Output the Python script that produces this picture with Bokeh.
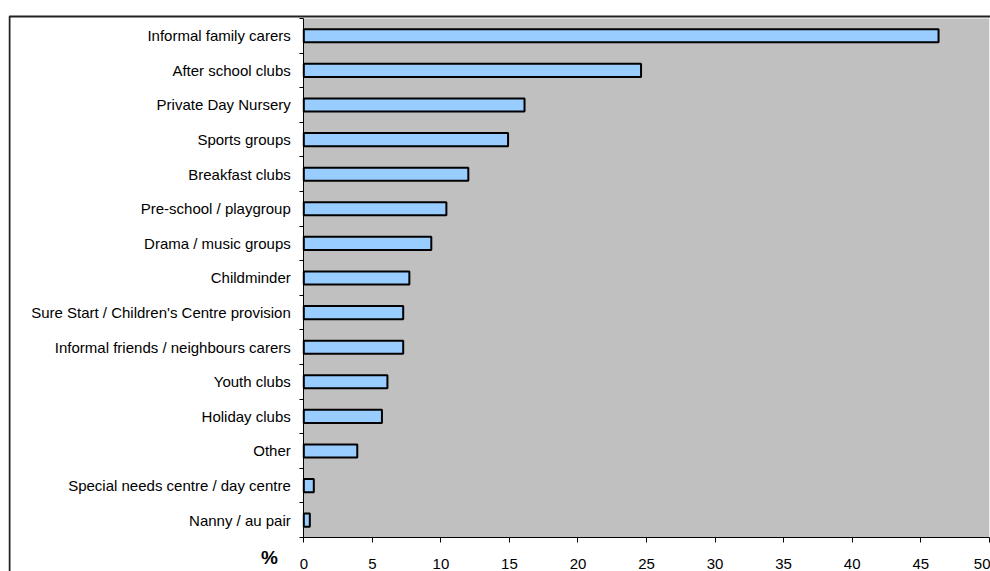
from bokeh.plotting import figure
from bokeh.models import Range1d, FixedTicker, BoxAnnotation, Label, ColumnDataSource
from bokeh.embed import file_html
from bokeh.resources import INLINE

categories = [
    "Informal family carers",
    "After school clubs",
    "Private Day Nursery",
    "Sports groups",
    "Breakfast clubs",
    "Pre-school / playgroup",
    "Drama / music groups",
    "Childminder",
    "Sure Start / Children's Centre provision",
    "Informal friends / neighbours carers",
    "Youth clubs",
    "Holiday clubs",
    "Other",
    "Special needs centre / day centre",
    "Nanny / au pair",
]
values = [46.3, 24.6, 16.1, 14.9, 12.0, 10.4, 9.3, 7.7, 7.25, 7.25, 6.1, 5.7, 3.9, 0.73, 0.44]
x_ticks = [0, 5, 10, 15, 20, 25, 30, 35, 40, 45, 50]
x_label = "%"

n = len(categories)
pos = list(range(n))
bounds_y = [i - 0.5 for i in range(n + 1)]
x_max = x_ticks[-1]

FONT = "Liberation Sans"

# frame covers the whole chart box; axes are pinned with fixed_location
p = figure(width=990, height=571, output_backend="svg", toolbar_location=None,
           x_range=Range1d(-21.54, 50.09), y_range=Range1d(15.4827, -0.6156))
p.styles = {"overflow": "hidden"}
p.min_border_left = 8
p.min_border_right = 0
p.min_border_top = 14
p.min_border_bottom = 0
p.background_fill_color = "white"
p.border_fill_color = "white"
p.outline_line_color = None
p.grid.visible = False

# grey plot area
p.add_layout(BoxAnnotation(left=0, right=x_max, top=bounds_y[0], bottom=bounds_y[-1],
                           fill_color="#C0C0C0", fill_alpha=1, line_color=None,
                           level="underlay"))

# outer chart border (left and top edges visible)
p.add_layout(BoxAnnotation(left=9, right=5000, top=16, bottom=5000,
                           left_units="canvas", right_units="canvas",
                           top_units="canvas", bottom_units="canvas",
                           fill_alpha=0, line_color="#222222", line_alpha=1,
                           line_width=2))

src = ColumnDataSource(dict(y=pos, v=values))
p.hbar(y="y", right="v", left=0, height=0.38, source=src,
       fill_color="#99CCFF", line_color="black", line_width=2)

# y axis
ya = p.yaxis[0]
ya.fixed_location = 0
ya.bounds = (bounds_y[0], bounds_y[-1])
ya.ticker = FixedTicker(ticks=pos, minor_ticks=bounds_y)
ya.major_label_overrides = {i: c for i, c in enumerate(categories)}
ya.major_tick_out = 0
ya.major_tick_in = 0
ya.minor_tick_out = 4
ya.minor_tick_in = 0
ya.minor_tick_line_color = "black"
ya.axis_line_color = "black"
ya.major_label_standoff = 9
ya.major_label_text_font = FONT
ya.major_label_text_font_size = "15px"
ya.major_label_text_color = "black"

# x axis
xa = p.xaxis[0]
xa.fixed_location = bounds_y[-1]
xa.bounds = (0, x_max)
xa.ticker = FixedTicker(ticks=x_ticks, minor_ticks=[])
xa.major_tick_out = 5
xa.major_tick_in = 0
xa.major_tick_line_color = "black"
xa.axis_line_color = "black"
xa.major_label_standoff = 17
xa.major_label_text_font = FONT
xa.major_label_text_font_size = "15px"
xa.major_label_text_color = "black"

p.add_layout(Label(x=-2.5, y=bounds_y[-1] + 0.58, text=x_label, text_align="center",
                   text_baseline="middle", text_font=FONT, text_font_size="19px",
                   text_font_style="bold", text_color="black"))

open("out.html", "w").write(file_html(p, INLINE))
